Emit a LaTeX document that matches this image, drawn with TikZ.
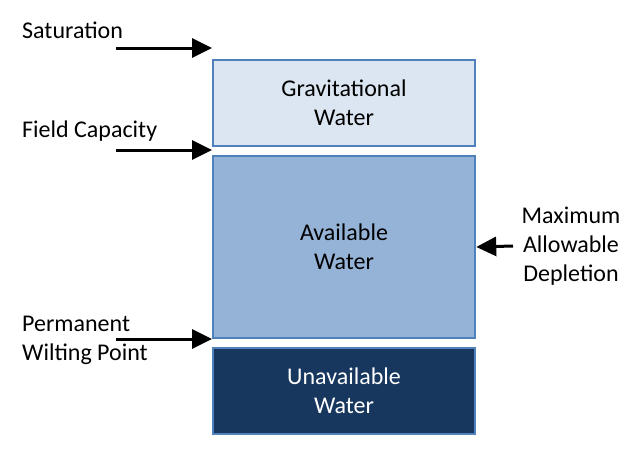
\documentclass[tikz,border=0pt]{standalone}
\usepackage{fontspec}
\setmainfont{Carlito}
\usetikzlibrary{arrows.meta}
\definecolor{gravfill}{HTML}{DCE6F2}
\definecolor{availfill}{HTML}{95B3D7}
\definecolor{unavfill}{HTML}{17375E}
\definecolor{boxborder}{HTML}{4F81BD}
\begin{document}
\begin{tikzpicture}[x=1pt,y=-1pt,
  every node/.style={font=\fontsize{24}{29}\selectfont, inner sep=0pt},
  layer/.style={draw=boxborder, line width=2.5pt, minimum width=262pt, align=center},
  lbl/.style={anchor=west, align=left},
  pointer/.style={line width=3pt, -{Triangle[length=20pt,width=19pt]}}]
\useasboundingbox (0,0) rectangle (643,463);
\fill[white] (0,0) rectangle (643,463);
% layers
\node[layer, fill=gravfill, minimum height=86pt] (grav) at (344,103) {Gravitational\\Water};
\node[layer, fill=availfill, minimum height=182pt] (avail) at (344,247) {Available\\Water};
\node[layer, fill=unavfill, minimum height=86pt, text=white] (unav) at (344,391) {Unavailable\\Water};
% labels
\node[lbl] (sat) at (22,30) {Saturation};
\node[lbl] (fc) at (22,131) {Field Capacity};
\node[lbl] (pwp) at (22,340) {Permanent\\Wilting Point};
\node[align=center] (mad) at (571,246) {Maximum\\Allowable\\Depletion};
% arrow coordinates
\coordinate (satS) at (116,48);
\coordinate (satE) at (212,48);
\coordinate (fcS) at (116,150);
\coordinate (fcE) at (212,150);
\coordinate (pwpS) at (116,339);
\coordinate (pwpE) at (212,339);
\coordinate (madS) at (513,246);
% arrows
\draw[pointer] (satS) -- (satE);
\draw[pointer] (fcS) -- (fcE);
\draw[pointer] (pwpS) -- (pwpE);
\draw[pointer] (madS) -- (avail.east);
\end{tikzpicture}
\end{document}
